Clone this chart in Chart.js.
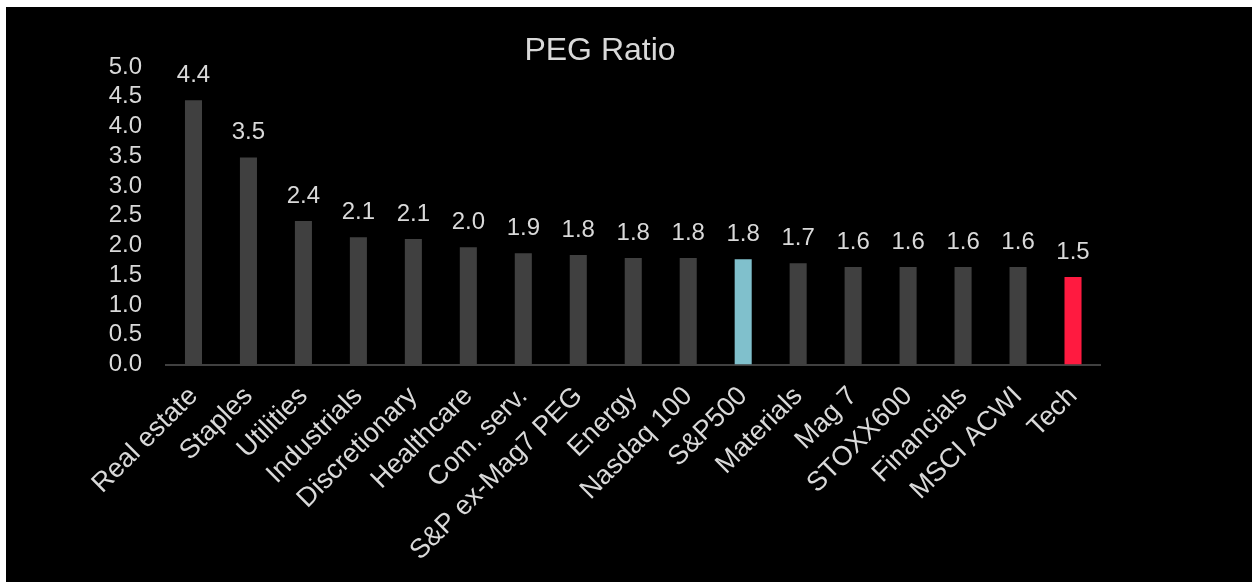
<!DOCTYPE html>
<html>
<head>
<meta charset="utf-8">
<script src="https://cdn.jsdelivr.net/npm/chart.js@4"></script>
<style>
  body { margin: 0; background: #fff; }
  #wrap { position: absolute; left: 6px; top: 7px; width: 1246px; height: 575px; background: #000; }
</style>
</head>
<body>
<div id="wrap"><canvas id="pegChart" width="1246" height="575"></canvas></div>
<script>
const categories = ["Real estate", "Staples", "Utilities", "Industrials", "Discretionary", "Healthcare",
    "Com. serv.", "S&P ex-Mag7 PEG", "Energy", "Nasdaq 100", "S&P500", "Materials", "Mag 7",
    "STOXX600", "Financials", "MSCI ACWI", "Tech"];
const pegValues = [4.44, 3.48, 2.41, 2.14, 2.11, 1.97, 1.87, 1.84, 1.79, 1.79, 1.77, 1.70, 1.64, 1.64, 1.64, 1.64, 1.47];
const yTicks = [0, 0.5, 1, 1.5, 2, 2.5, 3, 3.5, 4, 4.5, 5];

const textColor = "#d9d9d9";
Chart.defaults.font.family = "'Liberation Sans', Arial, sans-serif";

function barColor(name) {
    if (name === "S&P500") return "#80c0cc";
    if (name === "Tech") return "#ff1a40";
    return "#404040";
}

// value labels above each bar
const valueLabels = {
    id: "valueLabels",
    afterDatasetsDraw(chart) {
        const ctx = chart.ctx;
        const meta = chart.getDatasetMeta(0);
        ctx.save();
        ctx.fillStyle = textColor;
        ctx.font = "24px 'Liberation Sans', Arial, sans-serif";
        ctx.textAlign = "center";
        ctx.textBaseline = "alphabetic";
        meta.data.forEach((bar, i) => {
            ctx.fillText(pegValues[i].toFixed(1), bar.x, bar.y - 18);
        });
        ctx.restore();
    }
};

const ctx = document.getElementById("pegChart").getContext("2d");
new Chart(ctx, {
    type: "bar",
    data: {
        labels: categories,
        datasets: [{
            label: "PEG Ratio",
            data: pegValues,
            backgroundColor: categories.map(barColor),
            barPercentage: 0.31,
            categoryPercentage: 1
        }]
    },
    options: {
        responsive: false,
        animation: false,
        layout: {padding: {left: 0, right: 58, top: 0, bottom: 0}},
        plugins: {
            legend: {display: false},
            tooltip: {enabled: false},
            title: {
                display: true,
                text: "PEG Ratio",
                color: textColor,
                font: {size: 32, weight: "normal", lineHeight: 1},
                padding: {top: 28, bottom: 0}
            }
        },
        scales: {
            x: {
                grid: {display: false, drawTicks: false},
                border: {display: true, color: "#404040", width: 2},
                ticks: {
                    color: textColor,
                    font: {size: 27},
                    minRotation: 45,
                    maxRotation: 45,
                    autoSkip: false,
                    padding: 16
                },
                afterFit(scale) { scale.height = 217.5; }
            },
            y: {
                min: 0,
                max: 5,
                grid: {display: false, drawTicks: false},
                border: {display: false},
                afterBuildTicks(scale) { scale.ticks = yTicks.map(v => ({value: v})); },
                ticks: {
                    color: textColor,
                    font: {size: 24, lineHeight: 1},
                    padding: 24,
                    callback: v => v.toFixed(1)
                },
                afterFit(scale) { scale.width = 160; }
            },
            y2: {
                position: "right",
                grid: {display: false, drawTicks: false},
                border: {display: false},
                ticks: {display: false},
                afterFit(scale) { scale.width = 93.5; }
            }
        }
    },
    plugins: [valueLabels]
});
</script>
</body>
</html>
